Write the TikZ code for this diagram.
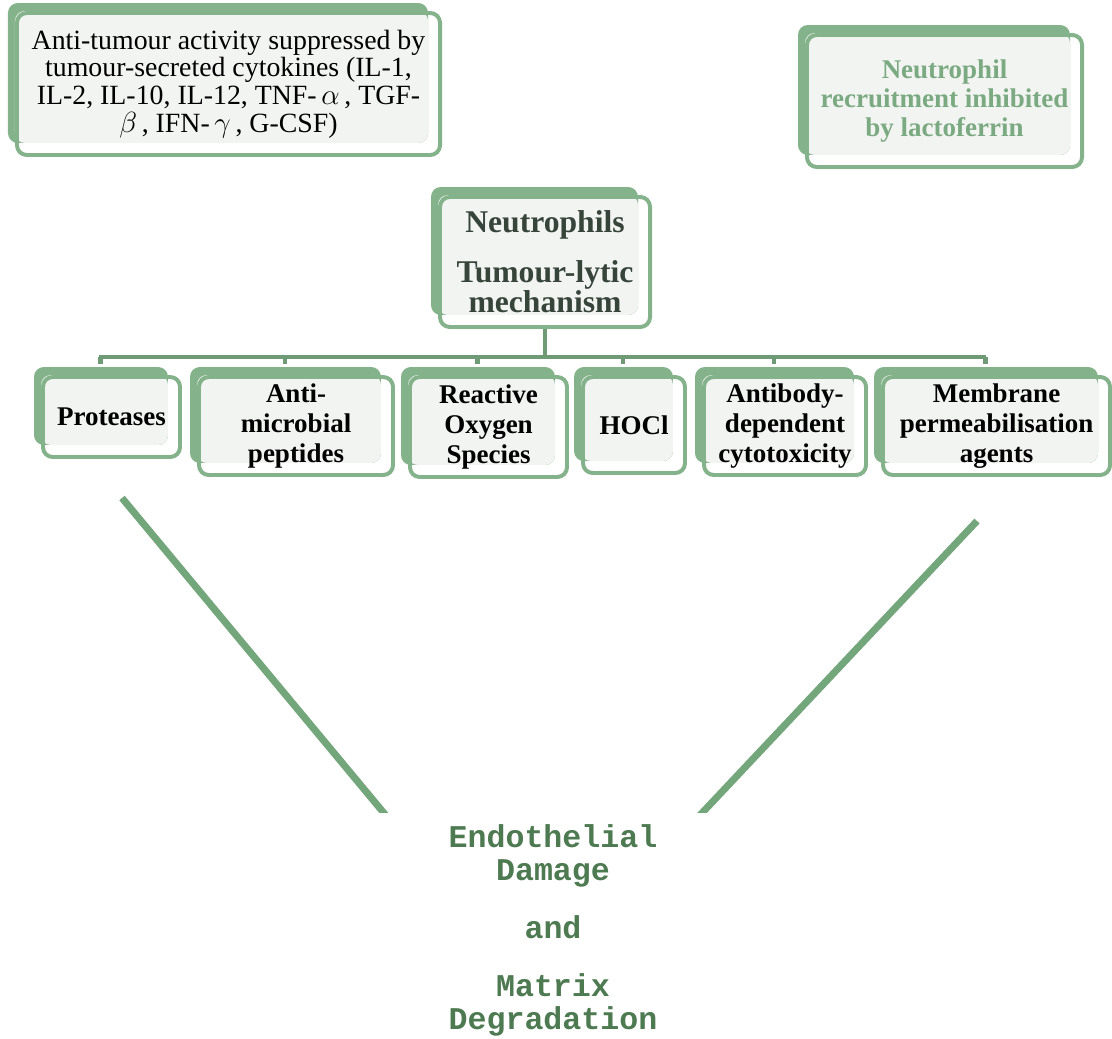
\documentclass[tikz,border=0pt]{standalone}
\usepackage{fontspec}
\setmainfont{Liberation Serif}
\setmonofont{Liberation Mono}
\usetikzlibrary{backgrounds,calc}
\definecolor{boxgreen}{HTML}{84B28B}
\definecolor{boxfill}{HTML}{F2F4F1}
\definecolor{bargreen}{HTML}{6E9B75}
\definecolor{linegreen}{HTML}{74A67B}
\definecolor{textgreen}{HTML}{4E7A52}
\definecolor{lactogreen}{HTML}{7BAA82}
\definecolor{neutgray}{HTML}{36443A}
\begin{document}
\begin{tikzpicture}[x=0.025cm,y=-0.025cm,
    frontbox/.style={draw=boxgreen,line width=2.8pt,rounded corners=7pt,inner sep=2pt,align=center},
    leaf/.style={frontbox,font=\bfseries\fontsize{19.2}{21.5}\selectfont},
    link/.style={draw=bargreen,line width=3.5pt},
    slope/.style={draw=linegreen,line width=5pt}]
    \useasboundingbox (0,0) rectangle (1112,1039);
    % top boxes
    \node[frontbox,minimum width=10.575cm,minimum height=3.55cm,font=\fontsize{19.8}{19.7}\selectfont] (cyto) at (228.5,84)
        {Anti-tumour activity suppressed by\\tumour-secreted cytokines (IL-1,\\IL-2, IL-10, IL-12, TNF-\,$\alpha$\,, TGF-\\$\beta$\,, IFN-\,$\gamma$\,, G-CSF)};
    \node[frontbox,minimum width=6.875cm,minimum height=3.3cm,text=lactogreen,font=\bfseries\fontsize{19.2}{20.6}\selectfont] (lacto) at (944.5,101)
        {Neutrophil\\recruitment inhibited\\by lactoferrin};
    \node[frontbox,minimum width=5.25cm,minimum height=3.25cm,text=neutgray,font=\bfseries\fontsize{22.5}{19.5}\selectfont] (neut) at (545,262)
        {Neutrophils\\[14pt]Tumour-lytic\\mechanism};
    % mechanisms
    \node[leaf,minimum width=3.425cm,minimum height=2cm] (prot) at (111.5,417) {Proteases};
    \node[leaf,minimum width=4.85cm,minimum height=2.45cm] (amp) at (296,426) {Anti-\\microbial\\peptides};
    \node[leaf,minimum width=3.925cm,minimum height=2.5cm] (ros) at (488.5,427) {Reactive\\Oxygen\\Species};
    \node[leaf,minimum width=2.55cm,minimum height=2.4cm] (hocl) at (634,425) {HOCl};
    \node[leaf,minimum width=4.05cm,minimum height=2.45cm] (adcc) at (785,426) {Antibody-\\dependent\\cytotoxicity};
    \node[leaf,minimum width=5.675cm,minimum height=2.45cm] (memb) at (996.5,426) {Membrane\\permeabilisation\\agents};
    \begin{scope}[on background layer]
        \foreach \n in {cyto,lacto,neut,prot,amp,ros,hocl,adcc,memb} {
            \fill[boxgreen,rounded corners=7pt] ([shift={(-7,-8)}]\n.north west) rectangle ([shift={(-14,-14)}]\n.south east);
            \fill[boxfill,rounded corners=7pt] (\n.north west) rectangle ([shift={(-14,-14)}]\n.south east);
        }
    \end{scope}
    % tree
    \coordinate (barL) at (99,357);
    \coordinate (barR) at (986,357);
    \draw[link] (neut.south) -- (neut.south |- barL);
    \draw[link] (barL) -- (barR);
    \foreach \c in {prot,amp,ros,hocl,adcc,memb}
        \draw[link] ($(\c.north |- barL)+(-11,0)$) -- ++(0,7);
    % result
    \node[font=\ttfamily\bfseries\fontsize{22.5}{23.5}\selectfont,text=textgreen,align=center] (dmg) at (553,930)
        {Endothelial\\Damage\\[17.8pt]and\\[17.8pt]Matrix\\Degradation};
    \coordinate (dmgL) at (122,498);
    \coordinate (dmgLend) at (398,830);
    \coordinate (dmgR) at (977,521);
    \coordinate (dmgRend) at (686,830);
    \begin{scope}
        \clip (0,0) rectangle (1112,812);
        \draw[slope] (dmgL) -- (dmgLend);
        \draw[slope] (dmgR) -- (dmgRend);
    \end{scope}
\end{tikzpicture}
\end{document}
